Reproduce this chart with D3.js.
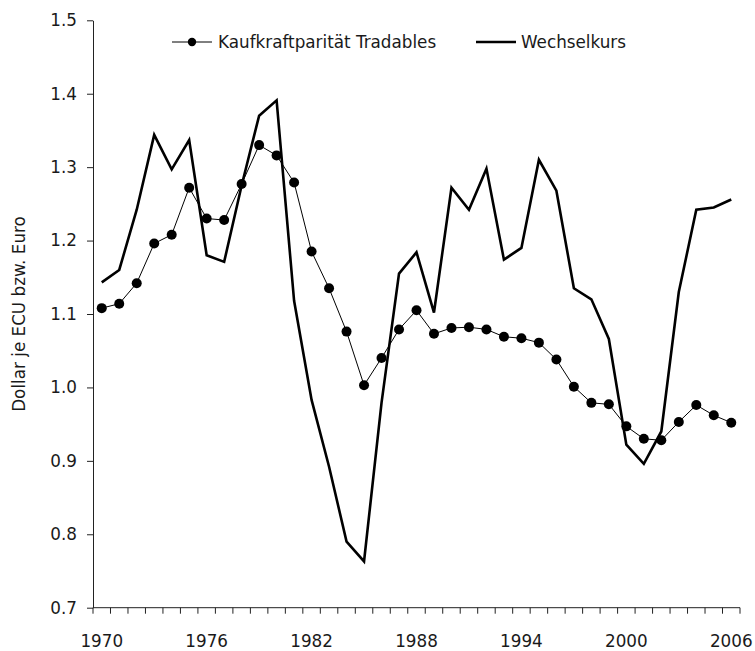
<!DOCTYPE html>
<html>
<head>
<meta charset="utf-8">
<script src="https://cdn.jsdelivr.net/npm/d3@7"></script>
<style>
  body { margin: 0; background: #fff; }
  svg text { font-family: "DejaVu Sans", sans-serif; fill: #1a1a1a; }
</style>
</head>
<body>
<div id="chart_div"></div>
<script>
// Data
const years = d3.range(1970, 2007);
const ppp = [1.108, 1.114, 1.142, 1.196, 1.208, 1.272, 1.230, 1.228, 1.277, 1.330,
  1.316, 1.279, 1.185, 1.135, 1.076, 1.003, 1.040, 1.079, 1.105, 1.073,
  1.081, 1.082, 1.079, 1.069, 1.067, 1.061, 1.038, 1.001, 0.979, 0.977,
  0.947, 0.930, 0.928, 0.953, 0.976, 0.962, 0.952];
const fx = [1.143, 1.160, 1.242, 1.344, 1.297, 1.337, 1.180, 1.171, 1.275, 1.370,
  1.391, 1.118, 0.983, 0.892, 0.790, 0.763, 0.979, 1.155, 1.184, 1.102,
  1.272, 1.242, 1.298, 1.174, 1.190, 1.310, 1.268, 1.135, 1.120, 1.066,
  0.922, 0.896, 0.940, 1.130, 1.242, 1.245, 1.256];
const yTicks = [0.7, 0.8, 0.9, 1.0, 1.1, 1.2, 1.3, 1.4, 1.5];
const xLabels = [1970, 1976, 1982, 1988, 1994, 2000, 2006];
const seriesNames = ["Kaufkraftparität Tradables", "Wechselkurs"];

const width = 755, height = 651;
const marginLeft = 93, plotRight = 740, marginTop = 20.3, plotBottom = 607.7;
const fontSize = 16.8;

const svg = d3.select("#chart_div").append("svg")
  .attr("width", width)
  .attr("height", height);

const x = d3.scaleBand().domain(years).range([marginLeft, plotRight]);
const y = d3.scaleLinear().domain([0.7, 1.5]).range([plotBottom, marginTop]);
const cx = d => x(d) + x.bandwidth() / 2;

// y axis
const yAxis = svg.append("g")
  .attr("transform", `translate(${marginLeft},0)`)
  .call(d3.axisLeft(y).tickValues(yTicks).tickFormat(d3.format(".1f")).tickSize(6).tickSizeOuter(0));
yAxis.select(".domain").attr("stroke", "#222");
yAxis.selectAll(".tick line").attr("stroke", "#222");
yAxis.selectAll(".tick text")
  .attr("x", -16)
  .style("font-size", fontSize + "px")
  .style("font-family", "DejaVu Sans");

// x axis: tick marks at category edges, labels every 6 years
const xg = svg.append("g");
xg.append("line")
  .attr("x1", marginLeft).attr("x2", plotRight)
  .attr("y1", plotBottom).attr("y2", plotBottom)
  .attr("stroke", "#222");
xg.selectAll("line.tk")
  .data(years.map(d => x(d)).concat([plotRight]))
  .join("line")
  .attr("class", "tk")
  .attr("x1", d => d).attr("x2", d => d)
  .attr("y1", plotBottom).attr("y2", plotBottom + 6)
  .attr("stroke", "#222");
xg.selectAll("text")
  .data(xLabels)
  .join("text")
  .attr("x", d => cx(d))
  .attr("y", plotBottom + 39)
  .attr("text-anchor", "middle")
  .style("font-size", fontSize + "px")
  .text(d => d);

// y axis title
svg.append("text")
  .attr("transform", `translate(25,${(marginTop + plotBottom) / 2}) rotate(-90)`)
  .attr("text-anchor", "middle")
  .style("font-size", fontSize + "px")
  .text("Dollar je ECU bzw. Euro");

// exchange rate line
const lineFx = d3.line().x((d, i) => cx(years[i])).y(d => y(d));
svg.append("path")
  .datum(fx)
  .attr("fill", "none")
  .attr("stroke", "#000")
  .attr("stroke-width", 2.6)
  .attr("stroke-linejoin", "miter")
  .attr("d", lineFx);

// purchasing power parity line with markers
svg.append("path")
  .datum(ppp)
  .attr("fill", "none")
  .attr("stroke", "#000")
  .attr("stroke-width", 1)
  .attr("d", lineFx);
svg.append("g").selectAll("circle")
  .data(ppp)
  .join("circle")
  .attr("cx", (d, i) => cx(years[i]))
  .attr("cy", d => y(d))
  .attr("r", 5)
  .attr("fill", "#000");

// legend
const legY = 42;
const leg1 = svg.append("g");
leg1.append("line").attr("x1", 172).attr("x2", 212).attr("y1", legY).attr("y2", legY)
  .attr("stroke", "#000").attr("stroke-width", 1);
leg1.append("circle").attr("cx", 192).attr("cy", legY).attr("r", 4.2).attr("fill", "#000");
leg1.append("text").attr("x", 218).attr("y", legY).attr("dy", "0.36em")
  .style("font-size", fontSize + "px").text(seriesNames[0]);

const leg2 = svg.append("g");
leg2.append("line").attr("x1", 476).attr("x2", 516).attr("y1", legY).attr("y2", legY)
  .attr("stroke", "#000").attr("stroke-width", 2.6);
leg2.append("text").attr("x", 521).attr("y", legY).attr("dy", "0.36em")
  .style("font-size", fontSize + "px").text(seriesNames[1]);
</script>
</body>
</html>
